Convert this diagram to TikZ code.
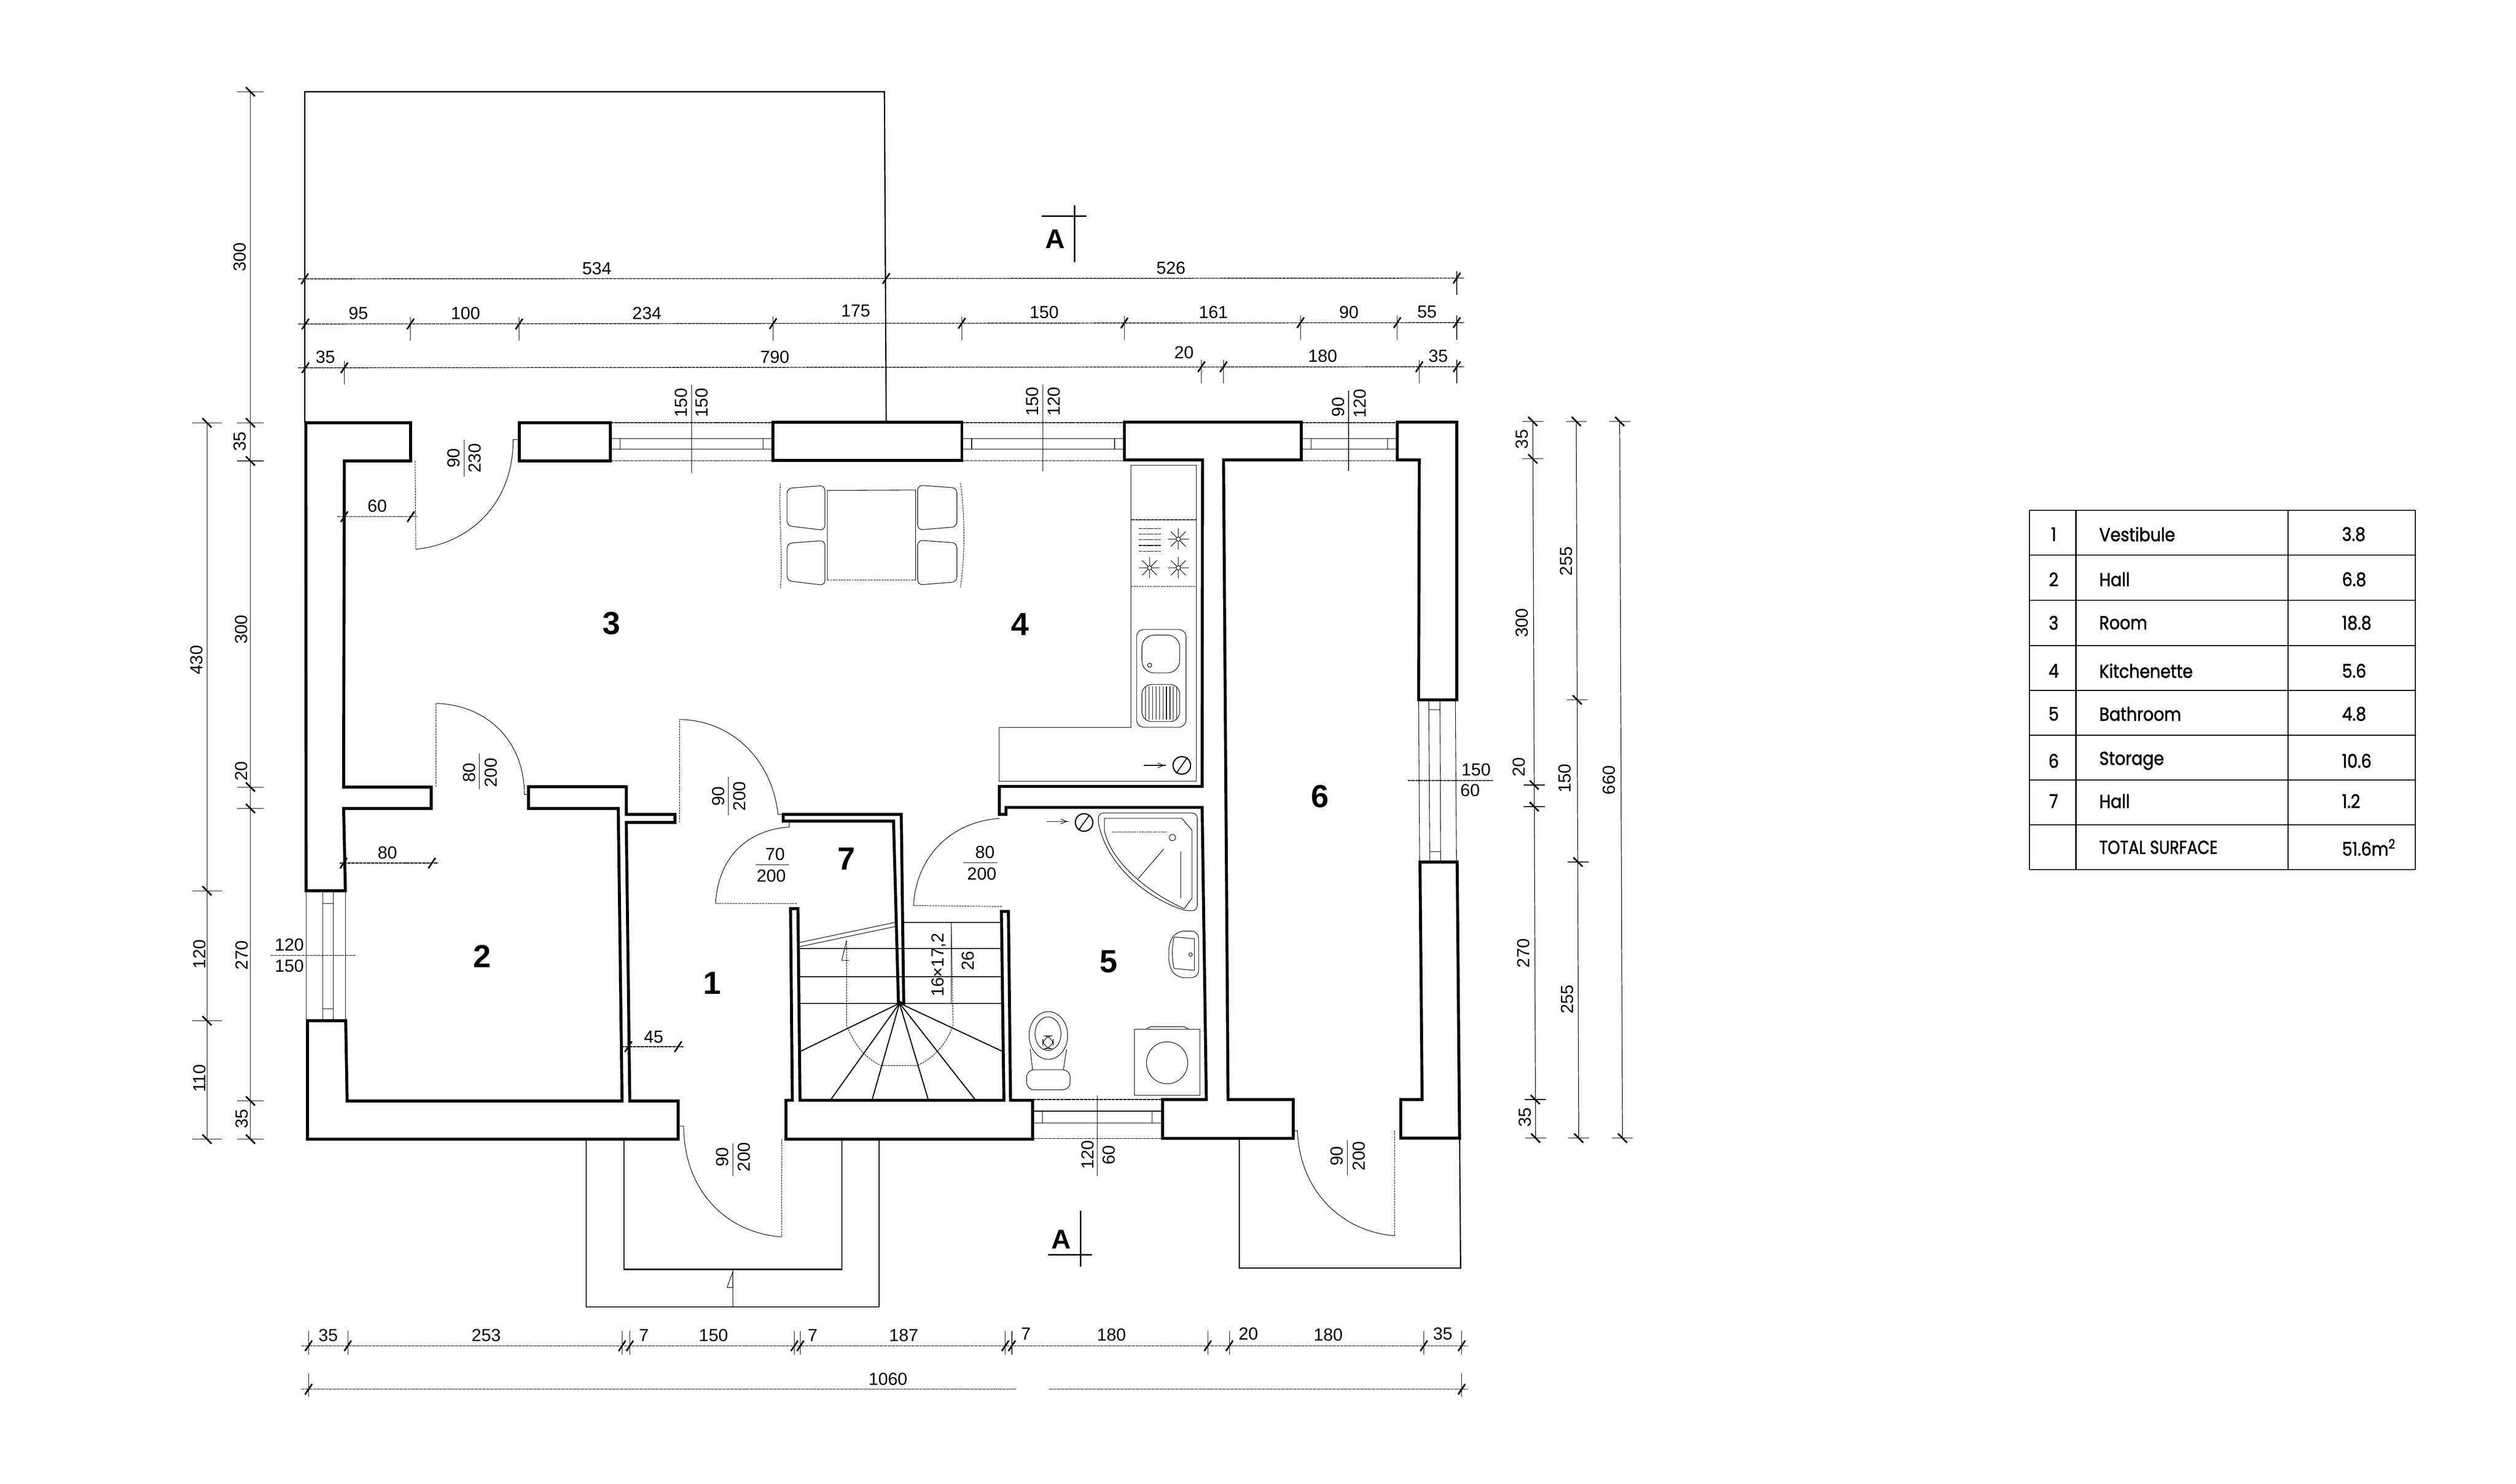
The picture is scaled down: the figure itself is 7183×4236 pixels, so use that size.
\documentclass[tikz,border=0pt]{standalone}
\usepackage{fontspec}
\setmainfont{Liberation Sans}
\newfontfamily\tablefont[FakeBold=1.8]{Poppins}
\newcommand{\dimfont}{\fontsize{7.1}{8}\selectfont}

\begin{document}
\begin{tikzpicture}[
    x=0.005cm, y=-0.005cm,
    wall/.style={draw, line width=1.2pt, line join=miter},
    outline/.style={draw, line width=0.5pt},
    fineline/.style={draw, line width=0.22pt},
    dimline/.style={draw, line width=0.3pt, dash pattern=on 1.4pt off 0.2pt},
    extline/.style={draw, line width=0.25pt},
    dimtick/.style={draw, line width=0.65pt},
    fixture/.style={draw, line width=0.22pt},
    stairline/.style={draw, line width=0.45pt},
    doorleaf/.style={draw, line width=0.2pt, dash pattern=on 0.8pt off 0.3pt},
    every node/.style={inner sep=0pt, align=center},
    dim text/.style={font=\dimfont},
    dim vert/.style={font=\dimfont, rotate=90},
    room label/.style={font=\fontsize{13}{14}\bfseries\selectfont},
    section label/.style={font=\fontsize{11}{12}\bfseries\selectfont},
    table text/.style={font=\tablefont\fontsize{7.6}{9}\selectfont, xscale=0.88},
]
    \useasboundingbox (0,0) rectangle (7183,4236);

    % --- TERRACES ---
    \draw[outline] (870,1207) -- (870,262) -- (2525,262) -- (2530,1207);
    \draw[outline] (1674,3252) -- (1674,3731) -- (2510,3731) -- (2510,3252);
    \draw[outline] (1781,3252) -- (1781,3624) -- (2403,3624) -- (2403,3252);
    \draw[outline] (3538,3250) -- (3538,3620) -- (4170,3620) -- (4167,3250);
    \draw[fineline] (2092,3624) -- (2092,3731);
    \draw[fineline] (2076,3675) -- (2092,3630) -- (2092,3676) -- cycle;

    % --- WALLS ---
    \draw[wall] (873,1207) -- (1172,1207) -- (1172,1316) -- (983,1316) -- (981,2247) -- (1231,2247)
        -- (1231,2308) -- (981,2308) -- (986,2543) -- (874,2543) -- cycle;
    \draw[wall] (1482,1207) rectangle (1743,1316);
    \draw[wall] (2207,1205) rectangle (2746,1315);
    \draw[wall] (3210,1205) -- (3715,1205) -- (3715,1313) -- (3493,1313) -- (3506,3139) -- (3692,3139)
        -- (3692,3250) -- (3319,3250) -- (3319,3139) -- (3444,3139) -- (3432,2305) -- (2872,2305)
        -- (2872,2325) -- (2853,2325) -- (2853,2245) -- (3432,2245) -- (3433,1313) -- (3210,1313) -- cycle;
    \draw[wall] (3989,1205) -- (4159,1205) -- (4159,1998) -- (4050,1998) -- (4052,1313) -- (3989,1313) -- cycle;
    \draw[wall] (4054,2461) -- (4160,2461) -- (4167,3249) -- (3999,3249) -- (3999,3139) -- (4060,3139) -- cycle;
    \draw[wall] (1509,2246) -- (1788,2246) -- (1788,2325) -- (1927,2325) -- (1927,2348) -- (1788,2348)
        -- (1798,3143) -- (1936,3143) -- (1936,3252) -- (878,3252) -- (878,2914) -- (987,2914)
        -- (991,3143) -- (1776,3143) -- (1765,2308) -- (1509,2308) -- cycle;
    \draw[wall] (2236,2325) -- (2573,2325) -- (2580,2864) -- (2565,2864) -- (2551,2344) -- (2236,2344) -- cycle;
    \draw[wall] (2244,3252) -- (2948,3252) -- (2948,3141) -- (2885,3141) -- (2879,2602) -- (2859,2602)
        -- (2866,3141) -- (2284,3141) -- (2278,2594) -- (2257,2594) -- (2262,3141) -- (2244,3141) -- cycle;

    % --- WINDOWS ---
    \foreach \xa/\xb in {1743/2207, 2746/3210, 3715/3989} {
        \draw[dimline] (\xa,1207) -- (\xb,1207);
        \draw[dimline] (\xa,1315) -- (\xb,1315);
        \draw[fineline] (\xa,1252) -- (\xb,1252);
        \draw[fineline] (\xa,1282) -- (\xb,1282);
        \draw[fineline] (\xa+28,1252) -- (\xa+28,1282);
        \draw[fineline] (\xb-28,1252) -- (\xb-28,1282);
    }
    \foreach \xa in {874, 922, 952, 986} \draw[fineline] (\xa,2543) -- (\xa,2914);
    \draw[fineline] (922,2580) -- (952,2580);
    \draw[fineline] (922,2880) -- (952,2880);
    \foreach \xa/\xb in {4050/4053, 4079/4082, 4111/4113, 4155/4158} \draw[fineline] (\xa,1998) -- (\xb,2461);
    \draw[fineline] (4079,2026) -- (4111,2026);
    \draw[fineline] (4082,2432) -- (4113,2432);
    \foreach \yy in {3139, 3250} \draw[dimline] (2948,\yy) -- (3319,\yy);
    \foreach \yy in {3172, 3206} \draw[fineline] (2948,\yy) -- (3319,\yy);
    \draw[fineline] (2976,3172) -- (2976,3206);
    \draw[fineline] (3289,3172) -- (3289,3206);

    % --- DOORS ---
    \draw[doorleaf] (1185,1316) -- (1187,1568);
    \draw[fineline] (1187,1568) .. controls (1340,1552) and (1465,1440) .. (1465,1255) -- (1480,1255);
    \draw[doorleaf] (1245,2246) -- (1245,2008);
    \draw[fineline] (1245,2008) .. controls (1385,2012) and (1497,2110) .. (1497,2268) -- (1509,2268);
    \draw[doorleaf] (1940,2348) -- (1940,2054);
    \draw[fineline] (1940,2054) .. controls (2090,2056) and (2205,2170) .. (2221,2325) -- (2236,2325);
    \draw[doorleaf] (2275,2579) -- (2043,2579);
    \draw[fineline] (2043,2579) .. controls (2050,2450) and (2130,2370) .. (2253,2361) -- (2253,2344);
    \draw[doorleaf] (2860,2588) -- (2608,2585);
    \draw[fineline] (2608,2585) .. controls (2615,2450) and (2710,2350) .. (2845,2337) -- (2853,2337);
    \draw[doorleaf] (2231,3252) -- (2231,3531);
    \draw[fineline] (2231,3531) .. controls (2075,3520) and (1952,3400) .. (1952,3215) -- (1936,3215);
    \draw[doorleaf] (3982,3228) -- (3982,3528);
    \draw[fineline] (3982,3528) .. controls (3825,3515) and (3710,3395) .. (3704,3228) -- (3692,3228);

    % --- STAIRS ---
    \foreach \yy in {2708, 2788, 2864} \draw[stairline] (2278,\yy) -- (2862,\yy);
    \draw[stairline] (2578,2633) -- (2860,2633);
    \draw[fineline] (2281,2691) -- (2556,2633);
    \draw[fineline] (2281,2703) -- (2556,2645);
    \foreach \xx/\yy in {2284/3002, 2372/3139, 2490/3139, 2650/3139, 2784/3139, 2863/3002}
        \draw[stairline] (2568,2864) -- (\xx,\yy);
    \fill (2568,2864) circle (7);
    \draw[doorleaf] (2417,2685) -- (2417,2927) .. controls (2440,2985) and (2470,3020) .. (2515,3042)
        -- (2618,3042) .. controls (2665,3020) and (2700,2985) .. (2721,2927) -- (2716,2633);
    \draw[fineline] (2403,2742) -- (2417,2685);
    \draw[doorleaf] (2403,2742) -- (2425,2742);

    % --- TABLE AND CHAIRS ---
    \draw[fixture] (2362,1656) -- (2362,1400) -- (2614,1399) -- (2614,1656);
    \draw[doorleaf] (2362,1656) -- (2614,1656);
    \foreach \dy in {0, 157} {
        \draw[fixture, rounded corners=2pt] (2247,1394+\dy) -- (2355,1386+\dy) -- (2355,1514+\dy) -- (2247,1501+\dy) -- cycle;
        \draw[fixture, rounded corners=2pt] (2620,1385+\dy) -- (2732,1393+\dy) -- (2732,1504+\dy) -- (2620,1513+\dy) -- cycle;
    }
    \draw[doorleaf] (2228,1380) .. controls (2222,1450) and (2236,1600) .. (2228,1680);
    \draw[doorleaf] (2742,1379) .. controls (2755,1470) and (2755,1590) .. (2742,1677);

    % --- KITCHEN ---
    \draw[fixture] (3229,2076) -- (3229,1328) -- (3415,1328) -- (3415,2230) -- (2852,2230) -- (2852,2076) -- cycle;
    \draw[dimline] (3229,1484) -- (3415,1484);
    \draw[doorleaf] (3229,1674) -- (3415,1674);
    \foreach \yy in {1509, 1525, 1541, 1557, 1574} \draw[dimline] (3251,\yy) -- (3314,\yy);
    \foreach \xx/\yy in {3364/1539, 3282/1621, 3364/1621} {
        \draw[fixture] (\xx,\yy) circle (6);
        \foreach \ang in {0,45,...,315} \draw[fixture] (\xx,\yy) ++(\ang:6) -- ++(\ang:24);
    }
    \draw[fixture, rounded corners=3pt] (3245,1797) rectangle (3386,2076);
    \draw[fixture, rounded corners=5pt] (3260,1813) rectangle (3368,1921);
    \draw[fixture] (3282,1899) circle (6);
    \draw[fixture, rounded corners=4pt] (3260,1954) rectangle (3368,2060);
    \foreach \xx in {3270,3280,...,3360} \draw[fixture] (\xx,1960) -- (\xx,2054);
    \draw[line width=0.5pt] (3374,2185) circle (25);
    \draw[line width=0.4pt] (3358,2208) -- (3390,2162);
    \draw[fixture] (3266,2185) -- (3329,2185);
    \draw[fixture] (3305,2178) -- (3322,2185) -- (3305,2192);

    % --- BATHROOM ---
    \draw[line width=0.5pt] (3095,2348) circle (25);
    \draw[line width=0.4pt] (3079,2370) -- (3111,2326);
    \draw[fixture] (2988,2345) -- (3051,2345);
    \draw[fixture] (3028,2338) -- (3045,2345) -- (3028,2352);
    \draw[fixture, rounded corners=2pt] (3136,2350) -- (3136,2321) -- (3418,2321) -- (3418,2600) -- (3385,2600)
        .. controls (3270,2560) and (3160,2470) .. (3136,2350);
    \draw[fixture] (3153,2336) -- (3374,2336) -- (3403,2370) -- (3403,2564) -- (3381,2594)
        .. controls (3280,2550) and (3170,2460) .. (3153,2370) -- cycle;
    \draw[doorleaf] (3175,2376) -- (3330,2376);
    \draw[fixture] (3249,2509) -- (3322,2424);
    \draw[fixture] (3371,2430) -- (3371,2564);
    \draw[fixture] (3347,2391) circle (9);
    \draw[fixture, rounded corners=3pt] (3422,2658) -- (3360,2658) -- (3337,2690) -- (3337,2760) -- (3360,2791) -- (3422,2791) -- cycle;
    \draw[fixture] (3352,2675) -- (3410,2680) -- (3410,2770) -- (3352,2765) .. controls (3345,2735) and (3345,2705) .. (3352,2675);
    \draw[fixture] (3399,2725) circle (5);
    \draw[fixture] (2993,2956) ellipse (55 and 68);
    \draw[fixture] (2992,2951) ellipse (37 and 48);
    \draw[fixture, rounded corners=4pt] (2977,2957) rectangle (3007,2994);
    \draw[fixture] (2941,2995) -- (2948,3054);
    \draw[fixture] (3045,2995) -- (3036,3054);
    \draw[fixture, rounded corners=3pt] (2931,3054) rectangle (3055,3111);
    \draw[fixture] (3239,2939) rectangle (3425,3127);
    \draw[fixture] (3332,3034) ellipse (59 and 60);
    \draw[fixture] (3270,2939) -- (3285,2931) -- (3380,2931) -- (3395,2939);

    % --- DIMENSION LINES ---
    \draw[dimline] (851,796) -- (4180,794);
    \draw[dimline] (851,925) -- (4180,921);
    \draw[dimline] (851,1050) -- (4180,1047);
    \draw[dimline] (860,3842) -- (4190,3842);
    \draw[dimline] (860,3966) -- (2900,3966);
    \draw[dimline] (2995,3966) -- (4190,3966);
    \draw[dimline] (963,1475) -- (1192,1475);
    \draw[dimline] (969,2464) -- (1251,2464);
    \draw[dimline] (1773,2988) -- (1952,2988);
    \draw[dimline] (771,2727) -- (1016,2727);
    \draw[dimline] (4019,2228) -- (4263,2228);
    \draw[extline] (715,262) -- (715,3252);
    \draw[extline] (591,1207) -- (591,3252);
    \draw[extline] (4376,1203) -- (4384,3249);
    \draw[extline] (4500,1203) -- (4507,3249);
    \draw[extline] (4624,1203) -- (4632,3249);

    % window and door reference lines
    \draw[extline] (1975,1097) -- (1975,1351);
    \draw[extline] (2977,1097) -- (2977,1345);
    \draw[extline] (3850,1115) -- (3850,1345);
    \draw[extline] (3133,3127) -- (3133,3357);
    \draw[extline] (1325,1255) -- (1325,1360);
    \draw[extline] (1368,2151) -- (1368,2252);
    \draw[extline] (2080,2218) -- (2080,2327);
    \draw[extline] (2092,3264) -- (2092,3357);
    \draw[extline] (3846,3254) -- (3846,3354);
    \draw[extline] (2158,2469) -- (2253,2469);
    \draw[extline] (2750,2463) -- (2848,2463);
    \draw[extline] (2716,2633) -- (2716,2864);

    % --- TICKS ---
    \foreach \xx/\yy in {870/796, 2530/795, 4159/794,
                         872/925, 1172/925, 1482/925, 2207/924, 2746/923, 3210/922, 3713/921, 3989/921, 4159/921,
                         872/1050, 983/1050, 3430/1047, 3493/1047, 4052/1047, 4159/1047,
                         881/3842, 993/3842, 1776/3842, 1798/3842, 2268/3842, 2285/3842, 2870/3842, 2889/3842,
                         3448/3842, 3510/3842, 4065/3842, 4173/3842, 881/3966, 4173/3966,
                         983/1475, 1173/1475, 981/2464, 1233/2464, 1794/2988, 1936/2988} {
        \draw[dimtick] (\xx-10,\yy+15) -- (\xx+10,\yy-15);
    }
    \foreach \xx/\yy in {1172/925, 1482/925, 2207/924, 2746/923, 3210/922, 3713/921, 3989/921, 4159/921,
                         983/1050, 3430/1047, 3493/1047, 4052/1047, 4159/1047, 4159/794} {
        \draw[extline] (\xx,\yy-20) -- (\xx,\yy+48);
    }
    \foreach \xx in {881, 993, 1776, 1798, 2268, 2285, 2870, 2889, 3448, 3510, 4065, 4173}
        \draw[extline] (\xx,3800) -- (\xx,3867);
    \foreach \xx in {881, 4173} \draw[extline] (\xx,3921) -- (\xx,3988);
    \foreach \xx/\yy/\ext in {715/262/38, 715/1207/38, 715/1316/38, 715/2247/38, 715/2308/38, 715/3143/38, 715/3252/38,
                              591/1207/42, 591/2543/42, 591/2914/42, 591/3252/42,
                              4376/1203/30, 4376/1310/30, 4380/2241/30, 4380/2303/30, 4383/3139/30, 4384/3249/30,
                              4500/1203/30, 4503/1998/30, 4505/2461/30, 4507/3249/30,
                              4624/1203/30, 4632/3249/30} {
        \draw[dimtick] (\xx-13,\yy-13) -- (\xx+13,\yy+13);
        \draw[extline] (\xx-\ext,\yy) -- (\xx+\ext,\yy);
    }

    % --- DIMENSION TEXT ---
    \foreach \xx/\yy/\txt in {1704/767/534, 3343/765/526,
                              1023/894/95, 1329/894/100, 1847/894/234, 2443/887/175,
                              2981/891/150, 3464/891/161, 3851/891/90, 4074/891/55,
                              929/1019/35, 2212/1019/790, 3380/1007/20, 3776/1016/180, 4106/1016/35,
                              937/3812/35, 1388/3812/253, 1838/3812/7, 2037/3812/150, 2320/3812/7, 2580/3812/187,
                              2929/3808/7, 3173/3810/180, 3564/3808/20, 3792/3810/180, 4119/3808/35,
                              2535/3937/1060, 1077/1444/60, 1106/2434/80, 1866/2961/45,
                              826/2697/120, 826/2757/150, 4214/2197/150, 4197/2256/60,
                              2213/2439/70, 2202/2500/200, 2812/2433/80, 2803/2494/200} {
        \node[dim text] (dh\xx-\yy) at (\xx,\yy) {\txt};
    }
    \foreach \xx/\yy/\txt in {685/734/300, 685/1260/35, 689/1797/300, 689/2201/20, 691/2727/270, 691/3194/35,
                              561/1884/430, 569/2724/120, 569/3079/110,
                              4345/1254/35, 4345/1778/300, 4336/2190/20, 4349/2721/270, 4353/3190/35,
                              4471/1602/255, 4467/2222/150, 4474/2853/255, 4593/2227/660,
                              1945/1150/150, 2004/1150/150, 2947/1146/150, 3009/1146/120, 3820/1162/90, 3883/1152/120,
                              1295/1308/90, 1356/1308/230, 1339/2206/80, 1402/2206/200,
                              2051/2273/90, 2111/2273/200, 2062/3303/90, 2124/3303/200,
                              3817/3300/90, 3880/3300/200, 3105/3297/120, 3165/3297/60,
                              2763/2743/26} {
        \node[dim vert] (dv\xx-\yy) at (\xx,\yy) {\txt};
    }
    \node[dim vert] (stepsize) at (2680,2755) {16×17,2};

    % --- ROOM NUMBERS ---
    \node[room label] (room1) at (2033,2806) {1};
    \node[room label] (room2) at (1376,2730) {2};
    \node[room label] (room3) at (1746,1779) {3};
    \node[room label] (room4) at (2912,1782) {4};
    \node[room label] (room5) at (3165,2745) {5};
    \node[room label] (room6) at (3768,2273) {6};
    \node[room label] (room7) at (2417,2452) {7};

    % --- SECTION MARKS ---
    \draw[line width=0.6pt] (2974,617) -- (3101,617);
    \draw[line width=0.6pt] (3068,586) -- (3068,748);
    \node[section label] (secTop) at (3013,682) {A};
    \draw[line width=0.6pt] (2992,3582) -- (3117,3582);
    \draw[line width=0.6pt] (3085,3457) -- (3085,3616);
    \node[section label] (secBottom) at (3029,3539) {A};

    % --- AREA TABLE ---
    \foreach \yy in {1457, 1585, 1714, 1843, 1971, 2099, 2227, 2355, 2483}
        \draw[line width=0.4pt] (5794,\yy) -- (6896,\yy);
    \foreach \xx in {5794, 6532, 6896} \draw[line width=0.4pt] (\xx,1457) -- (\xx,2483);
    \draw[line width=0.7pt] (5927,1457) -- (5927,2483);
    \foreach \idx/\yy/\nam/\val in {1/1525/Vestibule/3.8, 2/1654/Hall/6.8, 3/1778/Room/18.8, 4/1915/Kitchenette/5.6,
                                    5/2038/Bathroom/4.8, 6/2172/Storage/10.6, 7/2287/Hall/1.2} {
        \node[table text] (num\idx) at (5863,\yy) {\idx};
        \node[table text, anchor=west] (name\idx) at (5992,\yy) {\nam};
        \node[table text, anchor=west] (area\idx) at (6685,\yy) {\val};
    }
    \node[table text, anchor=west, xscale=0.95] (nameTotal) at (5992,2419) {TOTAL SURFACE};
    \node[table text, anchor=west] (areaTotal) at (6685,2419) {51.6m\textsuperscript{2}};

\end{tikzpicture}
\end{document}
